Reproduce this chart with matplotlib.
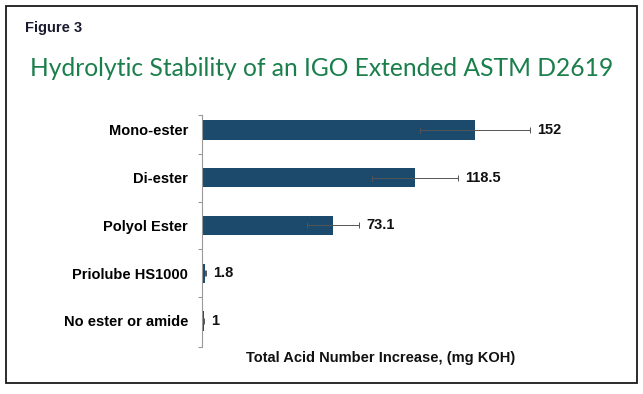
import numpy as np
import matplotlib
matplotlib.use('Agg')
import matplotlib.pyplot as plt
from matplotlib.patches import Rectangle

# data
categories = ['Mono-ester', 'Di-ester', 'Polyol Ester', 'Priolube HS1000', 'No ester or amide']
tan_increase = [152, 118.5, 73.1, 1.8, 1]
errors = [30.6, 24, 14.5, 0.4, 0.3]
value_labels = ['152', '118.5', '73.1', '1.8', '1']

bar_color = '#1b4a6d'
title_color = '#1b7f4c'

fig = plt.figure(figsize=(6.43, 3.94), dpi=100)

# outer frame
fig.patches.append(Rectangle((6/643, 11/394), 631/643, 377/394, transform=fig.transFigure,
                             fill=False, edgecolor='#1a1a1a', linewidth=1.3))

fig.text(25/643, 0.929, 'Figure 3', fontsize=10.5, fontweight='bold', color='#1a1a2e',
         family='Liberation Sans', va='center', ha='left')
fig.text(0.5, 0.827, 'Hydrolytic Stability of an IGO Extended ASTM D2619', fontsize=17.7,
         color=title_color, family=['Lato', 'DejaVu Sans'], va='center', ha='center')

ax = fig.add_axes([202/643, 47/394, 400/643, 232/394])
y = np.arange(len(categories))
ax.barh(y, tan_increase, height=0.4, color=bar_color, zorder=2)
ax.errorbar(tan_increase, y, xerr=errors, fmt='none', ecolor='#555555', elinewidth=0.7,
            capsize=2, capthick=0.7, zorder=3)

for yi, v, e, lab in zip(y, tan_increase, errors, value_labels):
    ax.annotate(lab, xy=(v + e, yi), xytext=(5, 0), textcoords='offset points',
                va='center', ha='left', fontsize=10.5, fontweight='bold',
                family='Liberation Sans', color='#111111')

ax.set_xlim(0, 400/1.796)
ax.set_ylim(4.545, -0.314)
ax.set_yticks([-0.314, 0.5, 1.5, 2.5, 3.5, 4.545])
ax.set_yticklabels([])
ax.set_yticks(y, minor=True)
ax.set_yticklabels(categories, minor=True, fontsize=10.5, fontweight='bold', family='Liberation Sans')
ax.tick_params(axis='y', which='major', length=3, color='#999999', width=0.8)
ax.tick_params(axis='y', which='minor', length=0, pad=10)
ax.set_xticks([])
for s in ['top', 'right', 'bottom']:
    ax.spines[s].set_visible(False)
ax.spines['left'].set_color('#999999')
ax.spines['left'].set_linewidth(0.8)

fig.text(381/643, (394-358)/394, 'Total Acid Number Increase, (mg KOH)', fontsize=10.5,
         fontweight='bold', family='Liberation Sans', ha='center', va='center', color='#111111')

fig.savefig('out.png', dpi=100)
